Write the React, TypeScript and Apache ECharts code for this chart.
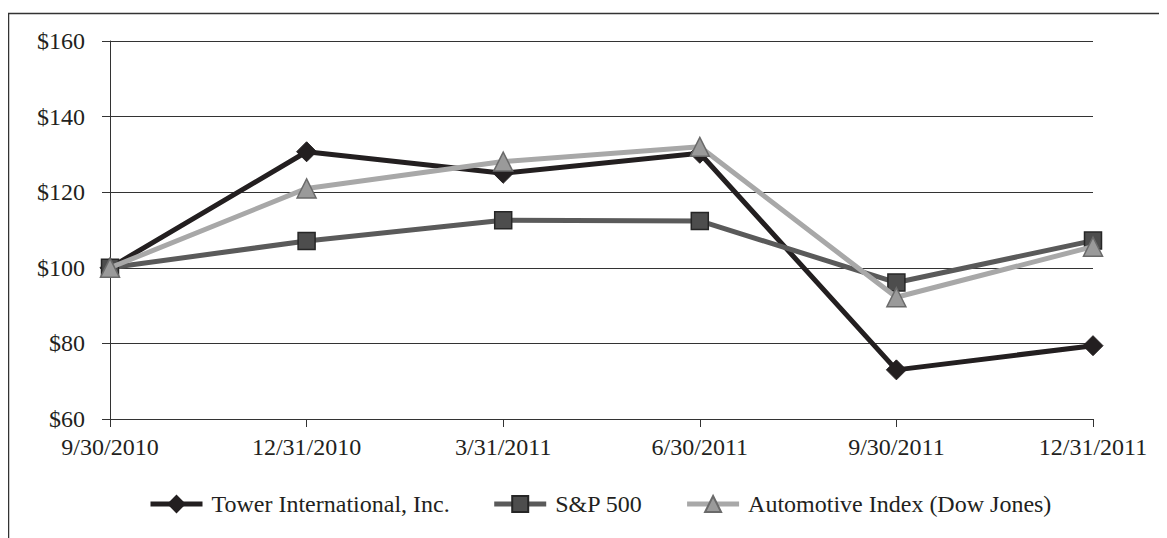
import React, { useEffect, useRef } from "react";
import * as echarts from "echarts";

const categories = ["9/30/2010", "12/31/2010", "3/31/2011", "6/30/2011", "9/30/2011", "12/31/2011"];
const towerValues = [100, 130.7, 125.0, 130.3, 73.0, 79.4];
const spValues = [100, 107.1, 112.6, 112.4, 96.1, 107.2];
const autoValues = [100, 121.0, 128.1, 132.0, 92.2, 105.6];
const yTicks = { min: 60, max: 160, interval: 20 };

const FONT = "'Liberation Serif', 'Times New Roman', serif";
const TEXT = "#231f20";

export default function App() {
  const ref = useRef<HTMLDivElement>(null);
  useEffect(() => {
    if (!ref.current) return;
    const chart = echarts.init(ref.current, undefined, { renderer: "svg" });
    chart.setOption({
      animation: false,
      backgroundColor: "#ffffff",
      textStyle: { fontFamily: FONT, color: TEXT },
      graphic: [
        { type: "line", shape: { x1: 0.5, y1: 5, x2: 0.5, y2: 530 }, style: { stroke: "#333", lineWidth: 1.5 } },
        { type: "line", shape: { x1: 0, y1: 5.5, x2: 1159, y2: 5.5 }, style: { stroke: "#333", lineWidth: 1.5 } },
      ],
      grid: { left: 102, right: 74, top: 33, bottom: 119, containLabel: false },
      legend: {
        left: 135,
        top: 479,
        itemWidth: 52,
        itemHeight: 20,
        itemGap: 42,
        lineStyle: { width: 5 },
        textStyle: { fontFamily: FONT, fontSize: 24, color: TEXT, padding: [0, 0, 0, 4] },
        data: ["Tower International, Inc.", "S&P 500", "Automotive Index (Dow Jones)"],
      },
      xAxis: {
        type: "category",
        data: categories,
        boundaryGap: false,
        axisLine: { show: true, lineStyle: { color: "#333", width: 1 } },
        axisTick: { show: true, length: 8, alignWithLabel: true, lineStyle: { color: "#333" } },
        axisLabel: { fontFamily: FONT, fontSize: 24, color: TEXT, margin: 16, interval: 0 },
        splitLine: { show: false },
      },
      yAxis: {
        type: "value",
        min: yTicks.min,
        max: yTicks.max,
        interval: yTicks.interval,
        axisLine: { show: true, lineStyle: { color: "#333", width: 1 } },
        axisTick: { show: true, length: 8, lineStyle: { color: "#333" } },
        axisLabel: { fontFamily: FONT, fontSize: 24, color: TEXT, margin: 25, formatter: "${value}" },
        splitLine: { show: true, lineStyle: { color: "#333", width: 1 } },
      },
      series: [
        {
          name: "Tower International, Inc.",
          type: "line",
          data: towerValues,
          symbol: "diamond",
          symbolSize: 20,
          lineStyle: { color: "#231f20", width: 5 },
          itemStyle: { color: "#231f20", borderColor: "#231f20", borderWidth: 1 },
          z: 2,
        },
        {
          name: "S&P 500",
          type: "line",
          data: spValues,
          symbol: "rect",
          symbolSize: 17,
          lineStyle: { color: "#5a5a5a", width: 5 },
          itemStyle: { color: "#4d4d4d", borderColor: "#262626", borderWidth: 1.5 },
          z: 3,
        },
        {
          name: "Automotive Index (Dow Jones)",
          type: "line",
          data: autoValues,
          symbol: "triangle",
          symbolSize: 19,
          lineStyle: { color: "#a8a8a8", width: 5 },
          itemStyle: { color: "#9a9a9a", borderColor: "#6a6a6a", borderWidth: 1.5 },
          z: 4,
        },
      ],
    });
    return () => chart.dispose();
  }, []);
  return <div ref={ref} style={{ width: 1159, height: 530 }} />;
}
